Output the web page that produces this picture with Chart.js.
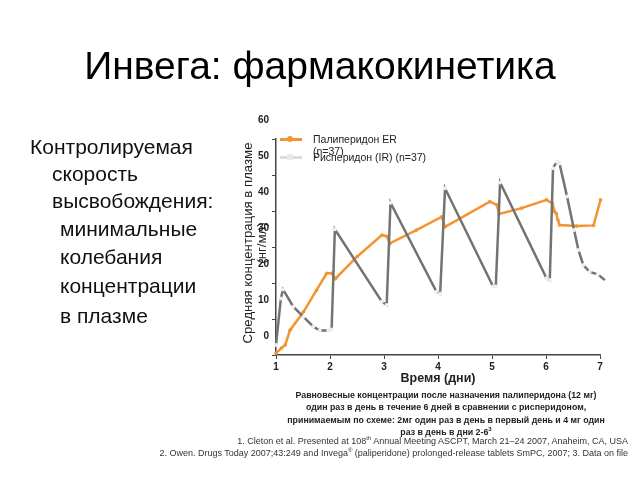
<!DOCTYPE html>
<html lang="ru">
<head>
    <meta charset="UTF-8">
    <title>Инвега: фармакокинетика</title>
    <script src="https://cdn.jsdelivr.net/npm/chart.js"></script>
    <style>
        body { margin: 0; width: 640px; height: 480px; background: #fff; position: relative; overflow: hidden;
               font-family: "Liberation Sans", Arial, sans-serif; color: #000; }
        #chart { position: absolute; left: 0; top: 0; }
        .abs { position: absolute; white-space: nowrap; }
        h1 { position: absolute; left: 0; width: 640px; top: 46px; margin: 0; text-align: center;
             font-size: 39px; line-height: 40px; font-weight: normal; }
        .gauche { font-size: 21px; line-height: 21px; color: #111; }
        #titre-y { left: 255px; top: 243px; transform: translate(-50%, -50%) rotate(-90deg);
                   font-size: 13.2px; line-height: 14px; text-align: center; color: #222; }
        .legende { font-size: 10.5px; line-height: 12px; color: #222; }
        .trait { position: absolute; height: 3px; }
        .point { position: absolute; width: 6px; height: 6px; border-radius: 3px; }
        sup { font-size: 6px; line-height: 0; vertical-align: 4px; }
        #legende-note { left: 446px; top: 389px; transform: translateX(-50%); text-align: center;
                        font-size: 8.8px; line-height: 12.3px; font-weight: bold; color: #222; }
        #sources { right: 12px; top: 435px; text-align: right; font-size: 9px; line-height: 12px; color: #333; }
    </style>
</head>
<body>
    <canvas id="chart" width="640" height="480"></canvas>

    <h1>Инвега: фармакокинетика</h1>

    <div class="abs gauche" style="left:30px; top:136px">Контролируемая</div>
    <div class="abs gauche" style="left:52px; top:163px">скорость</div>
    <div class="abs gauche" style="left:52px; top:190px">высвобождения:</div>
    <div class="abs gauche" style="left:60px; top:218px">минимальные</div>
    <div class="abs gauche" style="left:60px; top:246px">колебания</div>
    <div class="abs gauche" style="left:60px; top:275px">концентрации</div>
    <div class="abs gauche" style="left:60px; top:305px">в плазме</div>

    <div id="titre-y" class="abs">Средняя концентрация в плазме<br>(нг/мл)</div>

    <!-- légende faite à la main -->
    <div class="trait" style="left:280px; top:138px; width:22px; background:#f39433"></div>
    <div class="point" style="left:287px; top:136px; background:#f39433"></div>
    <div class="abs legende" style="left:313px; top:133px">Палиперидон ER<br>(n=37)</div>
    <div class="trait" style="left:280px; top:156px; width:22px; background:#dcdcdc"></div>
    <div class="point" style="left:287px; top:154px; background:#e8e8e8; border-radius:1px"></div>
    <div class="abs legende" style="left:313px; top:151px">Рисперидон (IR) (n=37)</div>

    <div id="legende-note" class="abs">
        Равновесные концентрации после назначения палиперидона (12 мг)<br>
        один раз в день в течение 6 дней в сравнении с рисперидоном,<br>
        принимаемым по схеме: 2мг один раз в день в первый день и 4 мг один<br>
        раз в день в дни 2-6<sup>3</sup>
    </div>

    <div id="sources" class="abs">
        1. Cleton et al. Presented at 108<sup>th</sup> Annual Meeting ASCPT, March 21–24 2007, Anaheim, CA, USA<br>
        2. Owen. Drugs Today 2007;43:249 and Invega<sup>®</sup> (paliperidone) prolonged-release tablets SmPC, 2007; 3. Data on file
    </div>

    <script>
        // Палиперидон ER (jours / concentration)
        const joursPali = [1.00, 1.10, 1.17, 1.26, 1.51, 1.75, 1.94, 2.03, 2.10, 2.50, 2.96, 3.05, 3.11, 3.60,
                           4.07, 4.13, 4.96, 5.09, 5.13, 5.55, 6.01, 6.12, 6.16, 6.19, 6.22, 6.25, 6.57, 6.88, 7.01, 7.09];
        const concPali  = [0.5, 1.9, 2.8, 6.9, 12.0, 18.0, 22.7, 22.7, 21.2, 27.3, 33.3, 33.0, 31.0, 34.7,
                           38.4, 35.6, 42.6, 41.7, 39.2, 40.8, 43.1, 42.1, 39.8, 39.3, 37.5, 36.1, 35.8, 36.0, 43.1, 42.6];

        // Рисперидон IR
        const joursRisp = [1.00, 1.09, 1.13, 1.32, 1.51, 1.69, 1.81, 1.97, 2.03, 2.09, 2.96, 3.05, 3.12,
                           3.97, 4.04, 4.13, 5.02, 5.07, 5.15, 6.01, 6.07, 6.13, 6.20, 6.25, 6.39, 6.52,
                           6.60, 6.69, 6.81, 6.96, 7.09];
        const concRisp  = [2.8, 15.7, 18.2, 13.4, 10.6, 7.9, 6.8, 6.8, 7.1, 34.9, 14.8, 13.9, 42.3,
                           17.6, 17.1, 46.3, 19.0, 19.0, 47.9, 21.3, 20.8, 51.9, 53.7, 53.2, 44.0, 34.7,
                           29.2, 25.0, 23.1, 22.4, 20.8];

        const ticksX = [1, 2, 3, 4, 5, 6, 7];
        const ticksY = [0, 10, 20, 30, 40, 50, 60];

        const points = (xs, ys) => xs.map((x, i) => ({ x: x, y: ys[i] }));

        new Chart(document.getElementById('chart'), {
            type: 'line',
            data: {
                datasets: [
                    {
                        label: 'Рисперидон (IR) (n=37)',
                        data: points(joursRisp, concRisp),
                        borderColor: '#737373',
                        borderWidth: 2.5,
                        pointRadius: 2,
                        pointBorderWidth: 0,
                        pointBackgroundColor: '#eeeeee',
                        tension: 0,
                        clip: false
                    },
                    {
                        label: 'Палиперидон ER (n=37)',
                        data: points(joursPali, concPali),
                        borderColor: '#f39433',
                        borderWidth: 2.5,
                        pointRadius: 1.8,
                        pointBorderWidth: 0,
                        pointBackgroundColor: '#f39433',
                        tension: 0,
                        clip: false
                    }
                ]
            },
            options: {
                responsive: false,
                animation: false,
                layout: { padding: { left: 230, right: 40, top: 139, bottom: 90 } },
                plugins: { legend: { display: false }, tooltip: { enabled: false } },
                scales: {
                    x: {
                        type: 'linear',
                        min: 1, max: 7,
                        afterFit: (s) => { s.height = 35; },
                        afterBuildTicks: (s) => { s.ticks = ticksX.map(v => ({ value: v })); },
                        grid: { drawOnChartArea: false, tickLength: 4, color: '#444' },
                        border: { color: '#444', width: 1.5 },
                        ticks: { color: '#222', font: { family: 'Liberation Sans', size: 10, weight: 'bold' }, padding: 2 },
                        title: { display: true, text: 'Время (дни)', color: '#222',
                                 font: { family: 'Liberation Sans', size: 12.5, weight: 'bold' }, padding: { top: 2, bottom: 4 } }
                    },
                    y: {
                        min: 0, max: 60,
                        afterFit: (s) => { s.width = 46; },
                        afterBuildTicks: (s) => { s.ticks = ticksY.map(v => ({ value: v })); },
                        grid: { drawOnChartArea: false, tickLength: 4, color: '#444' },
                        border: { color: '#444', width: 1.5 },
                        ticks: { color: '#222', font: { family: 'Liberation Sans', size: 10, weight: 'bold' },
                                 padding: 3, labelOffset: -19 }
                    }
                }
            }
        });
    </script>
</body>
</html>
